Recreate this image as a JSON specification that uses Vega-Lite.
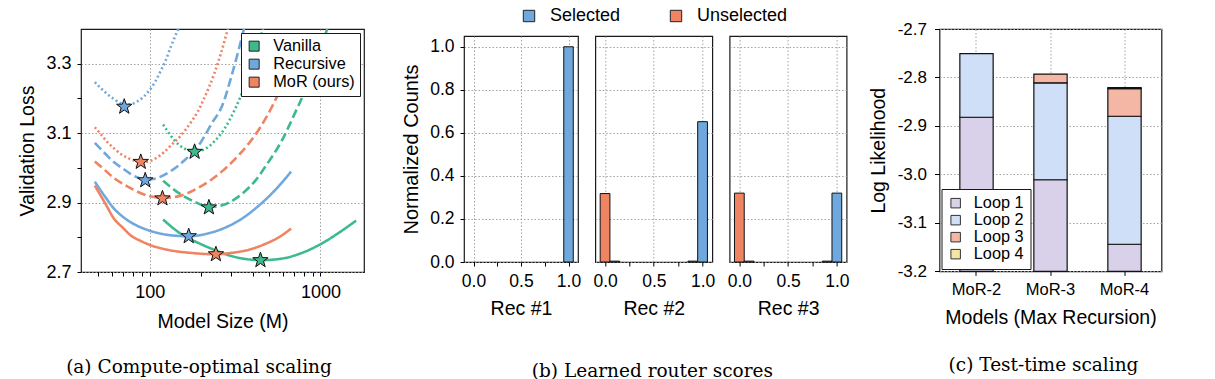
{
  "$schema": "https://vega.github.io/schema/vega-lite/v6.json",
  "background": "white",
  "padding": {"left": 17, "top": 7, "right": 5, "bottom": 5},
  "spacing": 17.5,
  "resolve": {"scale": {"color": "independent", "stroke": "independent", "strokeDash": "independent"}, "legend": {"color": "independent", "stroke": "independent", "strokeDash": "independent"}},
  "datasets": {
    "curves": [
      {"m":"Vanilla","b":"solid","x":119.7,"y":2.851},{"m":"Vanilla","b":"solid","x":152,"y":2.810},{"m":"Vanilla","b":"solid","x":190,"y":2.785},{"m":"Vanilla","b":"solid","x":238,"y":2.764},{"m":"Vanilla","b":"solid","x":300,"y":2.746},{"m":"Vanilla","b":"solid","x":370,"y":2.737},{"m":"Vanilla","b":"solid","x":445,"y":2.734},{"m":"Vanilla","b":"solid","x":600,"y":2.739},{"m":"Vanilla","b":"solid","x":750,"y":2.752},{"m":"Vanilla","b":"solid","x":1000,"y":2.78},{"m":"Vanilla","b":"solid","x":1300,"y":2.815},{"m":"Vanilla","b":"solid","x":1618,"y":2.848},
      {"m":"Vanilla","b":"dashed","x":119.7,"y":2.963},{"m":"Vanilla","b":"dashed","x":145,"y":2.930},{"m":"Vanilla","b":"dashed","x":182,"y":2.903},{"m":"Vanilla","b":"dashed","x":223,"y":2.887},{"m":"Vanilla","b":"dashed","x":265,"y":2.892},{"m":"Vanilla","b":"dashed","x":320,"y":2.912},{"m":"Vanilla","b":"dashed","x":364,"y":2.934},{"m":"Vanilla","b":"dashed","x":420,"y":2.966},{"m":"Vanilla","b":"dashed","x":476,"y":3.004},{"m":"Vanilla","b":"dashed","x":596,"y":3.08},{"m":"Vanilla","b":"dashed","x":700,"y":3.152},{"m":"Vanilla","b":"dashed","x":817,"y":3.226},{"m":"Vanilla","b":"dashed","x":950,"y":3.32},{"m":"Vanilla","b":"dashed","x":1094,"y":3.40},{"m":"Vanilla","b":"dashed","x":1150,"y":3.44},
      {"m":"Vanilla","b":"dotted","x":119.7,"y":3.125},{"m":"Vanilla","b":"dotted","x":139,"y":3.080},{"m":"Vanilla","b":"dotted","x":160,"y":3.055},{"m":"Vanilla","b":"dotted","x":184,"y":3.047},{"m":"Vanilla","b":"dotted","x":210,"y":3.054},{"m":"Vanilla","b":"dotted","x":240,"y":3.077},{"m":"Vanilla","b":"dotted","x":275,"y":3.114},{"m":"Vanilla","b":"dotted","x":315,"y":3.168},{"m":"Vanilla","b":"dotted","x":360,"y":3.236},{"m":"Vanilla","b":"dotted","x":410,"y":3.317},{"m":"Vanilla","b":"dotted","x":465,"y":3.407},
      {"m":"Recursive","b":"solid","x":47.6,"y":2.960},{"m":"Recursive","b":"solid","x":55,"y":2.915},{"m":"Recursive","b":"solid","x":61.8,"y":2.882},{"m":"Recursive","b":"solid","x":70,"y":2.858},{"m":"Recursive","b":"solid","x":77.4,"y":2.843},{"m":"Recursive","b":"solid","x":88,"y":2.829},{"m":"Recursive","b":"solid","x":100,"y":2.819},{"m":"Recursive","b":"solid","x":127,"y":2.807},{"m":"Recursive","b":"solid","x":169,"y":2.803},{"m":"Recursive","b":"solid","x":215,"y":2.810},{"m":"Recursive","b":"solid","x":268,"y":2.825},{"m":"Recursive","b":"solid","x":340,"y":2.851},{"m":"Recursive","b":"solid","x":430,"y":2.889},{"m":"Recursive","b":"solid","x":540,"y":2.935},{"m":"Recursive","b":"solid","x":673,"y":2.989},
      {"m":"Recursive","b":"dashed","x":47.6,"y":3.072},{"m":"Recursive","b":"dashed","x":55,"y":3.040},{"m":"Recursive","b":"dashed","x":61.8,"y":3.016},{"m":"Recursive","b":"dashed","x":70,"y":2.997},{"m":"Recursive","b":"dashed","x":77.4,"y":2.982},{"m":"Recursive","b":"dashed","x":85,"y":2.972},{"m":"Recursive","b":"dashed","x":94,"y":2.966},{"m":"Recursive","b":"dashed","x":105,"y":2.968},{"m":"Recursive","b":"dashed","x":127,"y":2.985},{"m":"Recursive","b":"dashed","x":159,"y":3.021},{"m":"Recursive","b":"dashed","x":199,"y":3.074},{"m":"Recursive","b":"dashed","x":230,"y":3.127},{"m":"Recursive","b":"dashed","x":268,"y":3.184},{"m":"Recursive","b":"dashed","x":300,"y":3.262},{"m":"Recursive","b":"dashed","x":332,"y":3.341},{"m":"Recursive","b":"dashed","x":360,"y":3.41},
      {"m":"Recursive","b":"dotted","x":47.6,"y":3.247},{"m":"Recursive","b":"dotted","x":52,"y":3.228},{"m":"Recursive","b":"dotted","x":56.5,"y":3.212},{"m":"Recursive","b":"dotted","x":62,"y":3.197},{"m":"Recursive","b":"dotted","x":67,"y":3.187},{"m":"Recursive","b":"dotted","x":72,"y":3.182},{"m":"Recursive","b":"dotted","x":77,"y":3.183},{"m":"Recursive","b":"dotted","x":84,"y":3.191},{"m":"Recursive","b":"dotted","x":92,"y":3.205},{"m":"Recursive","b":"dotted","x":100,"y":3.225},{"m":"Recursive","b":"dotted","x":108,"y":3.25},{"m":"Recursive","b":"dotted","x":116,"y":3.28},{"m":"Recursive","b":"dotted","x":124,"y":3.31},{"m":"Recursive","b":"dotted","x":133,"y":3.35},{"m":"Recursive","b":"dotted","x":141,"y":3.38},{"m":"Recursive","b":"dotted","x":150,"y":3.41},
      {"m":"MoR (ours)","b":"solid","x":47.6,"y":2.949},{"m":"MoR (ours)","b":"solid","x":55,"y":2.896},{"m":"MoR (ours)","b":"solid","x":61.8,"y":2.853},{"m":"MoR (ours)","b":"solid","x":70,"y":2.826},{"m":"MoR (ours)","b":"solid","x":77.4,"y":2.805},{"m":"MoR (ours)","b":"solid","x":88,"y":2.790},{"m":"MoR (ours)","b":"solid","x":100,"y":2.778},{"m":"MoR (ours)","b":"solid","x":127,"y":2.764},{"m":"MoR (ours)","b":"solid","x":174,"y":2.755},{"m":"MoR (ours)","b":"solid","x":244,"y":2.751},{"m":"MoR (ours)","b":"solid","x":300,"y":2.755},{"m":"MoR (ours)","b":"solid","x":380,"y":2.764},{"m":"MoR (ours)","b":"solid","x":470,"y":2.780},{"m":"MoR (ours)","b":"solid","x":570,"y":2.800},{"m":"MoR (ours)","b":"solid","x":673,"y":2.825},
      {"m":"MoR (ours)","b":"dashed","x":47.6,"y":3.018},{"m":"MoR (ours)","b":"dashed","x":55,"y":2.992},{"m":"MoR (ours)","b":"dashed","x":61.8,"y":2.970},{"m":"MoR (ours)","b":"dashed","x":70,"y":2.953},{"m":"MoR (ours)","b":"dashed","x":77.4,"y":2.941},{"m":"MoR (ours)","b":"dashed","x":97,"y":2.920},{"m":"MoR (ours)","b":"dashed","x":118.6,"y":2.913},{"m":"MoR (ours)","b":"dashed","x":152,"y":2.920},{"m":"MoR (ours)","b":"dashed","x":190,"y":2.941},{"m":"MoR (ours)","b":"dashed","x":228,"y":2.965},{"m":"MoR (ours)","b":"dashed","x":268,"y":2.992},{"m":"MoR (ours)","b":"dashed","x":330,"y":3.035},{"m":"MoR (ours)","b":"dashed","x":435,"y":3.11},{"m":"MoR (ours)","b":"dashed","x":500,"y":3.16},{"m":"MoR (ours)","b":"dashed","x":570,"y":3.216},
      {"m":"MoR (ours)","b":"dotted","x":47.6,"y":3.117},{"m":"MoR (ours)","b":"dotted","x":52,"y":3.095},{"m":"MoR (ours)","b":"dotted","x":56.5,"y":3.074},{"m":"MoR (ours)","b":"dotted","x":62,"y":3.055},{"m":"MoR (ours)","b":"dotted","x":67.6,"y":3.040},{"m":"MoR (ours)","b":"dotted","x":74,"y":3.029},{"m":"MoR (ours)","b":"dotted","x":81,"y":3.021},{"m":"MoR (ours)","b":"dotted","x":89,"y":3.017},{"m":"MoR (ours)","b":"dotted","x":97,"y":3.018},{"m":"MoR (ours)","b":"dotted","x":108,"y":3.027},{"m":"MoR (ours)","b":"dotted","x":121,"y":3.045},{"m":"MoR (ours)","b":"dotted","x":135,"y":3.068},{"m":"MoR (ours)","b":"dotted","x":152,"y":3.093},{"m":"MoR (ours)","b":"dotted","x":174,"y":3.131},{"m":"MoR (ours)","b":"dotted","x":190,"y":3.16},{"m":"MoR (ours)","b":"dotted","x":208,"y":3.2},{"m":"MoR (ours)","b":"dotted","x":238,"y":3.27},{"m":"MoR (ours)","b":"dotted","x":261,"y":3.33},{"m":"MoR (ours)","b":"dotted","x":290,"y":3.41}
    ],
    "stars": [
      {"m":"Vanilla","x":445,"y":2.734},{"m":"Vanilla","x":222,"y":2.886},{"m":"Vanilla","x":183,"y":3.046},
      {"m":"Recursive","x":169,"y":2.803},{"m":"Recursive","x":94,"y":2.964},{"m":"Recursive","x":70.8,"y":3.176},
      {"m":"MoR (ours)","x":244,"y":2.751},{"m":"MoR (ours)","x":118.6,"y":2.912},{"m":"MoR (ours)","x":88.5,"y":3.017}
    ],
    "hist": [
      {"rec":"Rec #1","type":"Selected","x0":0.95,"x1":1.05,"v":1.0},
      {"rec":"Rec #2","type":"Unselected","x0":-0.05,"x1":0.05,"v":0.318},
      {"rec":"Rec #2","type":"Unselected","x0":0.05,"x1":0.15,"v":0.004},
      {"rec":"Rec #2","type":"Selected","x0":0.85,"x1":0.95,"v":0.004},
      {"rec":"Rec #2","type":"Selected","x0":0.95,"x1":1.05,"v":0.652},
      {"rec":"Rec #3","type":"Unselected","x0":-0.05,"x1":0.05,"v":0.32},
      {"rec":"Rec #3","type":"Unselected","x0":0.05,"x1":0.15,"v":0.004},
      {"rec":"Rec #3","type":"Selected","x0":0.85,"x1":0.95,"v":0.004},
      {"rec":"Rec #3","type":"Selected","x0":0.95,"x1":1.05,"v":0.32}
    ],
    "loops": [
      {"model":"MoR-2","loop":"Loop 1","y0":-3.2,"y1":-2.882},
      {"model":"MoR-2","loop":"Loop 2","y0":-2.882,"y1":-2.751},
      {"model":"MoR-3","loop":"Loop 1","y0":-3.2,"y1":-3.011},
      {"model":"MoR-3","loop":"Loop 2","y0":-3.011,"y1":-2.811},
      {"model":"MoR-3","loop":"Loop 3","y0":-2.811,"y1":-2.793},
      {"model":"MoR-4","loop":"Loop 1","y0":-3.2,"y1":-3.144},
      {"model":"MoR-4","loop":"Loop 2","y0":-3.144,"y1":-2.880},
      {"model":"MoR-4","loop":"Loop 3","y0":-2.880,"y1":-2.823},
      {"model":"MoR-4","loop":"Loop 4","y0":-2.823,"y1":-2.821}
    ],
    "legendB": [{"type":"Selected"},{"type":"Unselected"}]
  },
  "hconcat": [
    {
      "spacing": 36,
      "resolve": {"scale": {"color": "independent", "stroke": "independent", "strokeDash": "independent"}, "legend": {"color": "independent", "stroke": "independent", "strokeDash": "independent"}},
      "hconcat": [
        {
          "width": 283,
          "height": 243,
          "title": {"text": "(a) Compute-optimal scaling", "orient": "bottom", "frame": "group", "anchor": "middle", "dx": -23.5, "offset": 27},
          "layer": [
            {
              "data": {"name": "curves"},
              "mark": {"type": "line", "strokeWidth": 2.6, "clip": true, "interpolate": "monotone"},
              "encoding": {
                "x": {"field": "x", "type": "quantitative", "title": "Model Size (M)",
                  "scale": {"type": "log", "domain": [39.5, 1800], "nice": false},
                  "axis": {"values": [50,60,70,80,90,100,200,300,400,500,600,700,800,900,1000],
                    "labelExpr": "datum.value == 100 || datum.value == 1000 ? '' + datum.value : ''",
                    "gridOpacity": {"condition": {"test": "datum.value == 100 || datum.value == 1000", "value": 1}, "value": 0},
                    "labelFontSize": 18, "labelPadding": 7, "titlePadding": 11, "titleFontSize": 19.5}},
                "y": {"field": "y", "type": "quantitative", "title": "Validation Loss",
                  "scale": {"domain": [2.7, 3.4], "nice": false, "zero": false},
                  "axis": {"values": [2.7, 2.8, 2.9, 3.0, 3.1, 3.2, 3.3],
                    "labelExpr": "datum.value == 2.7 || datum.value == 2.9 || datum.value == 3.1 || datum.value == 3.3 ? format(datum.value, '.1f') : ''",
                    "gridOpacity": {"condition": {"test": "datum.value == 2.7 || datum.value == 2.9 || datum.value == 3.1 || datum.value == 3.3", "value": 1}, "value": 0},
                    "labelFontSize": 18, "labelPadding": 6, "titlePadding": 8, "titleFontSize": 19.5}},
                "stroke": {"field": "m", "type": "nominal", "scale": {"domain": ["MoR (ours)", "Recursive", "Vanilla"], "range": ["#ef8463", "#6fa8dc", "#3dba8c"]}, "legend": null},
                "strokeDash": {"field": "b", "type": "nominal", "scale": {"domain": ["solid", "dashed", "dotted"], "range": [[1, 0], [9, 4], [2, 2.6]]}, "legend": null}
              }
            },
            {
              "data": {"name": "stars"},
              "mark": {"type": "point", "shape": "M0,-1L0.235,-0.324L0.951,-0.309L0.38,0.124L0.588,0.809L0,0.4L-0.588,0.809L-0.38,0.124L-0.951,-0.309L-0.235,-0.324Z", "filled": true, "size": 260, "stroke": "#111", "strokeWidth": 1, "opacity": 1},
              "encoding": {
                "x": {"field": "x", "type": "quantitative"},
                "y": {"field": "y", "type": "quantitative"},
                "color": {"field": "m", "type": "nominal", "scale": {"domain": ["Vanilla", "Recursive", "MoR (ours)"], "range": ["#3dba8c", "#6fa8dc", "#ef8463"]},
                  "legend": {"title": null, "orient": "top-right", "offset": 4, "padding": 5, "fillColor": "white", "strokeColor": "#1a1a1a", "symbolType": "square", "symbolSize": 100, "symbolStrokeColor": "#222", "symbolStrokeWidth": 1, "symbolOpacity": 1, "labelFontSize": 16.3, "labelOffset": 11, "rowPadding": 1}}
              }
            }
          ]
        },
        {
          "spacing": 5,
          "resolve": {"scale": {"color": "independent"}, "legend": {"color": "independent"}},
          "title": {"text": "(b) Learned router scores", "orient": "bottom", "anchor": "middle", "dx": 27, "offset": 43},
          "vconcat": [
            {
              "width": 380,
              "height": 1,
              "view": {"stroke": null},
              "data": {"name": "legendB"},
              "mark": {"type": "point", "shape": "square", "filled": true, "opacity": 0, "size": 1},
              "encoding": {
                "color": {"field": "type", "type": "nominal", "scale": {"domain": ["Selected", "Unselected"], "range": ["#6fa8dc", "#ef8463"]},
                  "legend": {"title": null, "orient": "none", "legendX": 56, "legendY": -22, "direction": "horizontal", "padding": 0, "symbolType": "square", "symbolSize": 130, "symbolStrokeColor": "#222", "symbolStrokeWidth": 1, "symbolOpacity": 1, "labelFontSize": 18, "labelOffset": 12, "columnPadding": 46}}
              }
            },
            {
              "spacing": 9.3,
              "resolve": {"scale": {"color": "independent"}, "legend": {"color": "independent"}},
              "hconcat": [
                {
                  "width": 114, "height": 226,
                  "data": {"name": "hist"},
                  "transform": [{"filter": "datum.rec == 'Rec #1'"}],
                  "mark": {"type": "rect", "stroke": "#111", "strokeWidth": 1},
                  "encoding": {
                    "x": {"field": "x0", "type": "quantitative", "title": "Rec #1", "scale": {"domain": [-0.1, 1.1], "nice": false, "zero": false},
                      "axis": {"values": [0, 0.25, 0.5, 0.75, 1], "labelExpr": "datum.value == 0.25 || datum.value == 0.75 ? '' : format(datum.value, '.1f')",
                        "gridOpacity": {"condition": {"test": "datum.value == 0.25 || datum.value == 0.75", "value": 0}, "value": 1},
                        "labelFontSize": 17.5, "labelPadding": 6, "titlePadding": 10, "titleFontSize": 19.5}},
                    "x2": {"field": "x1"},
                    "y": {"field": "v", "type": "quantitative", "title": "Normalized Counts", "scale": {"domain": [0, 1.05], "nice": false},
                      "axis": {"values": [0, 0.2, 0.4, 0.6, 0.8, 1.0], "format": ".1f", "labelFontSize": 17.5, "labelPadding": 6, "titlePadding": 8, "titleFontSize": 20}},
                    "y2": {"datum": 0},
                    "color": {"field": "type", "type": "nominal", "scale": {"domain": ["Selected", "Unselected"], "range": ["#6fa8dc", "#ef8463"]}, "legend": null}
                  }
                },
                {
                  "width": 117, "height": 226,
                  "data": {"name": "hist"},
                  "transform": [{"filter": "datum.rec == 'Rec #2'"}],
                  "mark": {"type": "rect", "stroke": "#111", "strokeWidth": 1},
                  "encoding": {
                    "x": {"field": "x0", "type": "quantitative", "title": "Rec #2", "scale": {"domain": [-0.1, 1.1], "nice": false, "zero": false},
                      "axis": {"values": [0, 0.25, 0.5, 0.75, 1], "labelExpr": "datum.value == 0.25 || datum.value == 0.75 ? '' : format(datum.value, '.1f')",
                        "gridOpacity": {"condition": {"test": "datum.value == 0.25 || datum.value == 0.75", "value": 0}, "value": 1},
                        "labelFontSize": 17.5, "labelPadding": 6, "titlePadding": 10, "titleFontSize": 19.5}},
                    "x2": {"field": "x1"},
                    "y": {"field": "v", "type": "quantitative", "scale": {"domain": [0, 1.05], "nice": false},
                      "axis": {"values": [0, 0.2, 0.4, 0.6, 0.8, 1.0], "labels": false, "ticks": false, "title": null}},
                    "y2": {"datum": 0},
                    "color": {"field": "type", "type": "nominal", "scale": {"domain": ["Selected", "Unselected"], "range": ["#6fa8dc", "#ef8463"]}, "legend": null}
                  }
                },
                {
                  "width": 117, "height": 226,
                  "data": {"name": "hist"},
                  "transform": [{"filter": "datum.rec == 'Rec #3'"}],
                  "mark": {"type": "rect", "stroke": "#111", "strokeWidth": 1},
                  "encoding": {
                    "x": {"field": "x0", "type": "quantitative", "title": "Rec #3", "scale": {"domain": [-0.1, 1.1], "nice": false, "zero": false},
                      "axis": {"values": [0, 0.25, 0.5, 0.75, 1], "labelExpr": "datum.value == 0.25 || datum.value == 0.75 ? '' : format(datum.value, '.1f')",
                        "gridOpacity": {"condition": {"test": "datum.value == 0.25 || datum.value == 0.75", "value": 0}, "value": 1},
                        "labelFontSize": 17.5, "labelPadding": 6, "titlePadding": 10, "titleFontSize": 19.5}},
                    "x2": {"field": "x1"},
                    "y": {"field": "v", "type": "quantitative", "scale": {"domain": [0, 1.05], "nice": false},
                      "axis": {"values": [0, 0.2, 0.4, 0.6, 0.8, 1.0], "labels": false, "ticks": false, "title": null}},
                    "y2": {"datum": 0},
                    "color": {"field": "type", "type": "nominal", "scale": {"domain": ["Selected", "Unselected"], "range": ["#6fa8dc", "#ef8463"]}, "legend": null}
                  }
                }
              ]
            }
          ]
        }
      ]
    },
    {
      "width": 222,
      "height": 242.4,
      "title": {"text": "(c) Test-time scaling", "orient": "bottom", "frame": "group", "anchor": "middle", "dx": -7, "offset": 29},
      "data": {"name": "loops"},
      "mark": {"type": "bar", "stroke": "#111", "strokeWidth": 1.2},
      "encoding": {
        "x": {"field": "model", "type": "nominal", "title": "Models (Max Recursion)", "sort": ["MoR-2", "MoR-3", "MoR-4"],
          "scale": {"paddingInner": 0.55, "paddingOuter": 0.275},
          "axis": {"labelAngle": 0, "bandPosition": 0.5, "grid": true, "labelFontSize": 16.5, "labelPadding": 6, "titlePadding": 11, "titleFontSize": 19.5}},
        "y": {"field": "y0", "type": "quantitative", "title": "Log Likelihood", "scale": {"domain": [-3.2, -2.7], "nice": false, "zero": false},
          "axis": {"values": [-3.2, -3.1, -3.0, -2.9, -2.8, -2.7], "labelExpr": "replace(format(datum.value, '.1f'), '\u2212', '-')", "tickSize": 5, "labelFontSize": 17, "labelPadding": 8, "titlePadding": 9, "titleFontSize": 19.5}},
        "y2": {"field": "y1"},
        "color": {"field": "loop", "type": "nominal", "scale": {"domain": ["Loop 1", "Loop 2", "Loop 3", "Loop 4"], "range": ["#d9d1ea", "#cfdff8", "#f4b7a6", "#f3e6a5"]},
          "legend": {"title": null, "orient": "bottom-left", "offset": 2, "padding": 6, "fillColor": "white", "strokeColor": "#1a1a1a", "symbolType": "square", "symbolSize": 90, "symbolStrokeColor": "#333", "symbolStrokeWidth": 1, "symbolOpacity": 1, "labelFontSize": 16.3, "labelOffset": 10, "rowPadding": 0}}
      }
    }
  ],
  "config": {
    "view": {"stroke": "#1a1a1a", "strokeWidth": 1.2},
    "axis": {"labelFont": "Liberation Sans", "titleFont": "Liberation Sans", "titleFontWeight": "normal", "labelColor": "#000", "titleColor": "#000", "tickColor": "#000", "tickSize": 4, "domain": false, "gridColor": "#999999", "gridDash": [1.5, 2], "gridWidth": 0.9, "labelFlush": false, "labelOverlap": false},
    "legend": {"labelFont": "Liberation Sans", "labelColor": "#000"},
    "title": {"font": "DejaVu Serif", "fontSize": 18.5, "fontWeight": "normal", "color": "#000"}
  }
}
